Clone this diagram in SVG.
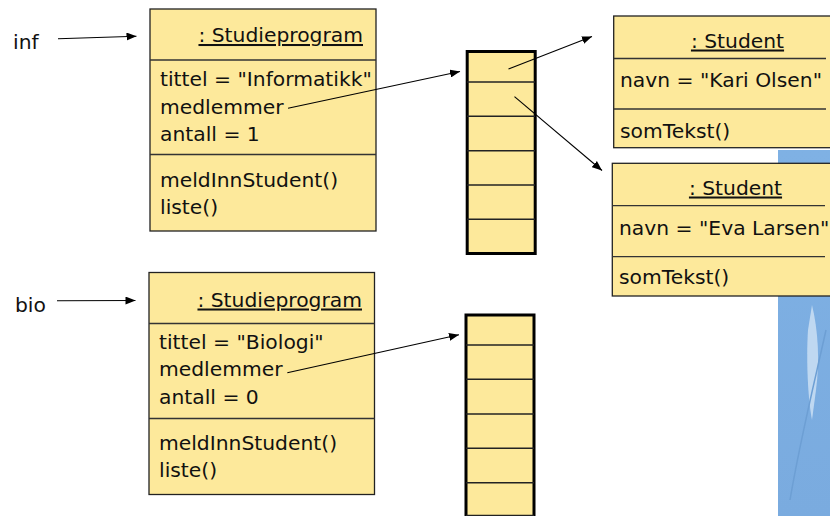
<svg xmlns="http://www.w3.org/2000/svg" width="830" height="516" viewBox="0 0 830 516">
<defs>
<style>
.box{fill:#FDE99B;stroke:#222;stroke-width:1.3}
.div{stroke:#333;stroke-width:1.3}
.arr{fill:#FDE99B;stroke:#000;stroke-width:3}
.cell{stroke:#222;stroke-width:1.5}
text{font-family:"DejaVu Sans","Liberation Sans",sans-serif;font-size:20.3px;fill:#111}
.u{text-decoration:underline}
.con{stroke:#000;stroke-width:1.1;fill:none;marker-end:url(#ah)}
</style>
<marker id="ah" viewBox="0 0 10 8" refX="10" refY="4" markerWidth="10" markerHeight="8" markerUnits="userSpaceOnUse" orient="auto">
<path d="M0,0 L10,4 L0,8 Z" fill="#000"/>
</marker>
<linearGradient id="bg" x1="0" y1="0" x2="0" y2="1">
<stop offset="0" stop-color="#7FB1E4"/>
<stop offset="1" stop-color="#7AABDF"/>
</linearGradient>
</defs>
<rect width="830" height="516" fill="#fff"/>
<g id="background">
<rect x="778" y="150" width="52" height="366" fill="url(#bg)"/>
<path d="M812,305 C818,330 820,360 816,390 L812,420 C808,400 806,360 808,330 Z" fill="#cfe2f5" opacity="0.8"/>
<path d="M790,500 C800,440 815,380 826,330" stroke="#6d9fd4" stroke-width="1.5" fill="none"/>
</g>
<g id="inf">
<text x="13" y="49">inf</text>
</g>
<g id="bio">
<text x="15" y="312">bio</text>
</g>
<g id="studieprogram-inf">
<rect class="box" x="150" y="9" width="226" height="222"/>
<line class="div" x1="150" y1="60" x2="376" y2="60"/>
<line class="div" x1="150" y1="154.5" x2="376" y2="154.5"/>
<text class="u" x="363" y="42" text-anchor="end">: Studieprogram</text>
<text x="160" y="86">tittel = "Informatikk"</text>
<text x="160" y="113.5">medlemmer</text>
<text x="160" y="141">antall = 1</text>
<text x="160" y="187">meldInnStudent()</text>
<text x="160" y="214">liste()</text>
</g>
<g id="studieprogram-bio">
<rect class="box" x="149" y="272.5" width="225.5" height="222"/>
<line class="div" x1="149" y1="323.5" x2="374.5" y2="323.5"/>
<line class="div" x1="149" y1="418.5" x2="374.5" y2="418.5"/>
<text class="u" x="362" y="306.5" text-anchor="end">: Studieprogram</text>
<text x="159" y="348.5">tittel = "Biologi"</text>
<text x="159" y="376">medlemmer</text>
<text x="159" y="403.5">antall = 0</text>
<text x="159" y="449.5">meldInnStudent()</text>
<text x="159" y="476.5">liste()</text>
</g>
<g id="array-inf">
<rect class="arr" x="467.2" y="51.5" width="68" height="202"/>
<line class="cell" x1="467" y1="82" x2="535" y2="82"/>
<line class="cell" x1="467" y1="116.3" x2="535" y2="116.3"/>
<line class="cell" x1="467" y1="150.7" x2="535" y2="150.7"/>
<line class="cell" x1="467" y1="185" x2="535" y2="185"/>
<line class="cell" x1="467" y1="219.3" x2="535" y2="219.3"/>
</g>
<g id="array-bio">
<rect class="arr" x="466" y="315" width="68" height="215"/>
<line class="cell" x1="466" y1="345" x2="534" y2="345"/>
<line class="cell" x1="466" y1="379.3" x2="534" y2="379.3"/>
<line class="cell" x1="466" y1="414" x2="534" y2="414"/>
<line class="cell" x1="466" y1="448.3" x2="534" y2="448.3"/>
<line class="cell" x1="466" y1="482.7" x2="534" y2="482.7"/>
<line class="cell" x1="466" y1="515.5" x2="534" y2="515.5"/>
</g>
<g id="student-kari">
<rect class="box" x="613.7" y="16" width="230" height="131.7"/>
<line class="div" x1="613.7" y1="58.5" x2="826" y2="58.5"/>
<line class="div" x1="613.7" y1="109" x2="826" y2="109"/>
<text class="u" x="737.5" y="47.5" text-anchor="middle">: Student</text>
<text x="620" y="87.3">navn = "Kari Olsen"</text>
<text x="620" y="138">somTekst()</text>
</g>
<g id="student-eva">
<rect class="box" x="612.3" y="163.3" width="230" height="132.7"/>
<line class="div" x1="612.3" y1="205.7" x2="825" y2="205.7"/>
<line class="div" x1="612.3" y1="256.7" x2="825" y2="256.7"/>
<text class="u" x="735.5" y="194.5" text-anchor="middle">: Student</text>
<text x="619" y="235">navn = "Eva Larsen"</text>
<text x="619" y="284">somTekst()</text>
</g>
<g id="connectors">
<line class="con" x1="58" y1="38.8" x2="136.5" y2="36.3"/>
<line class="con" x1="57" y1="300.7" x2="135.5" y2="300.5"/>
<line class="con" x1="288" y1="108.3" x2="460" y2="71.5"/>
<line class="con" x1="287.3" y1="372.7" x2="459" y2="334.7"/>
<line class="con" x1="508.5" y1="69" x2="592" y2="36.5"/>
<line class="con" x1="514.5" y1="96.7" x2="602" y2="170.5"/>
</g>
</svg>
